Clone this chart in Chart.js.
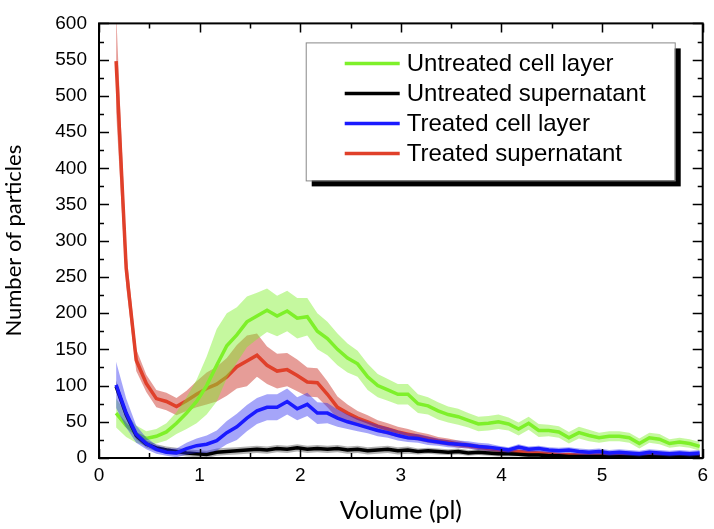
<!DOCTYPE html>
<html>
<head>
<meta charset="utf-8">
<script src="https://cdn.jsdelivr.net/npm/chart.js@4.4.0/dist/chart.umd.min.js"></script>
<style>
  html, body { margin: 0; padding: 0; background: #fff; }
  #wrap { width: 714px; height: 529px; }
</style>
</head>
<body>
<div id="wrap"><canvas id="chart" width="714" height="529"></canvas></div>
<script>
// volume (pl) for every sample
const volumes = [0.17, 0.27, 0.37, 0.47, 0.57, 0.67, 0.77, 0.87, 0.97, 1.07,
  1.17, 1.27, 1.37, 1.47, 1.57, 1.67, 1.77, 1.87, 1.97, 2.07,
  2.17, 2.27, 2.37, 2.47, 2.57, 2.67, 2.77, 2.87, 2.97, 3.07,
  3.17, 3.27, 3.37, 3.47, 3.57, 3.67, 3.77, 3.87, 3.97, 4.07,
  4.17, 4.27, 4.37, 4.47, 4.57, 4.67, 4.77, 4.87, 4.97, 5.07,
  5.17, 5.27, 5.37, 5.47, 5.57, 5.67, 5.77, 5.87, 5.97];

const untreatedCell = [62, 45, 33, 27, 30, 36, 48, 62, 78, 100,
  128, 155, 170, 188, 196, 204, 196, 203, 193, 195,
  175, 165, 150, 138, 130, 112, 100, 94, 88, 88,
  75, 72, 65, 60, 57, 52, 47, 48, 50, 47,
  40, 48, 38, 38, 36, 28, 35, 31, 28, 30,
  30, 28, 20, 28, 26, 20, 22, 20, 16];
const untreatedCellErr = [20, 16, 12, 10, 10, 12, 15, 22, 30, 40,
  50, 45, 38, 35, 32, 30, 28, 28, 28, 26,
  25, 23, 22, 20, 18, 18, 16, 15, 14, 14,
  13, 12, 12, 11, 11, 10, 10, 10, 10, 9,
  9, 9, 9, 8, 8, 8, 8, 8, 7, 7,
  7, 7, 7, 7, 7, 6, 6, 6, 6];

const untreatedSuper = [99, 60, 31, 19, 14, 11, 9, 7, 6, 5,
  8, 9, 10, 11, 12, 11, 13, 12, 14, 12,
  13, 12, 13, 11, 12, 10, 11, 12, 10, 11,
  9, 10, 9, 8, 9, 7, 8, 7, 6, 6,
  5, 4, 4, 3, 3, 2, 2, 2, 2, 2,
  2, 2, 2, 2, 2, 2, 2, 2, 2];
const untreatedSuperErr = [8, 6, 5, 5, 5, 5, 5, 5, 5, 5,
  5, 5, 5, 5, 5, 5, 5, 5, 5, 5,
  5, 5, 5, 5, 5, 5, 5, 5, 5, 5,
  4, 4, 4, 4, 4, 4, 4, 4, 4, 4,
  3, 3, 3, 3, 3, 3, 3, 3, 3, 3,
  3, 3, 3, 3, 3, 3, 3, 3, 3];

const treatedCell = [101, 62, 33, 20, 12, 8, 7, 13, 17, 19,
  24, 35, 43, 55, 65, 70, 70, 78, 68, 74,
  62, 62, 55, 50, 46, 42, 38, 35, 31, 28,
  27, 24, 22, 20, 19, 18, 16, 15, 13, 11,
  15, 12, 13, 11, 10, 11, 9, 8, 9, 7,
  8, 7, 6, 8, 7, 6, 7, 6, 7];
const treatedCellErr = [32, 20, 12, 8, 6, 5, 6, 8, 10, 12,
  14, 16, 18, 18, 18, 18, 18, 18, 16, 16,
  15, 14, 12, 10, 9, 8, 8, 7, 7, 6,
  6, 6, 5, 5, 5, 5, 5, 5, 4, 4,
  4, 4, 4, 4, 4, 4, 4, 4, 4, 4,
  4, 4, 4, 4, 4, 4, 4, 4, 4];

const treatedSuper = [548, 262, 135, 103, 82, 78, 71, 79, 88, 96,
  102, 112, 126, 134, 142, 128, 120, 122, 114, 105,
  104, 88, 70, 62, 55, 50, 44, 40, 36, 33,
  30, 27, 24, 22, 19, 17, 15, 13, 11, 10,
  9, 8, 7, 6, 5, 5, 4, 4, 4, 3,
  3, 3, 3, 3, 3, 3, 3, 3, 3];
const treatedSuperErr = [70, 25, 15, 12, 12, 12, 12, 14, 18, 22,
  24, 26, 30, 35, 30, 26, 24, 23, 22, 20,
  20, 18, 15, 12, 10, 9, 8, 8, 7, 7,
  6, 6, 5, 5, 5, 4, 4, 4, 3, 3,
  3, 3, 3, 3, 2, 2, 2, 2, 2, 2,
  2, 2, 2, 2, 2, 2, 2, 2, 2];

const seriesLabels = ['Untreated cell layer', 'Untreated supernatant', 'Treated cell layer', 'Treated supernatant'];
const xTicks = [0, 1, 2, 3, 4, 5, 6];
const yTicks = [0, 50, 100, 150, 200, 250, 300, 350, 400, 450, 500, 550, 600];

// colour, band colour and draw order (higher order is drawn first)
const series = [
  { label: seriesLabels[0], mean: untreatedCell, err: untreatedCellErr, color: '#7ef02a', band: 'rgba(126,240,42,0.45)', order: 30 },
  { label: seriesLabels[1], mean: untreatedSuper, err: untreatedSuperErr, color: '#000000', band: 'rgba(0,0,0,0.3)', order: 15 },
  { label: seriesLabels[2], mean: treatedCell, err: treatedCellErr, color: '#1a1aff', band: 'rgba(40,40,240,0.42)', order: 10 },
  { label: seriesLabels[3], mean: treatedSuper, err: treatedSuperErr, color: '#e0402a', band: 'rgba(205,60,50,0.5)', order: 40 }
];

const datasets = [];
series.forEach(s => {
  datasets.push({
    label: s.label + ' upper',
    data: volumes.map((v, i) => ({ x: v, y: s.mean[i] + s.err[i] })),
    borderWidth: 0, pointRadius: 0, fill: false, order: s.order + 2
  });
  datasets.push({
    label: s.label + ' lower',
    data: volumes.map((v, i) => ({ x: v, y: s.mean[i] - s.err[i] })),
    borderWidth: 0, pointRadius: 0, fill: '-1', backgroundColor: s.band, order: s.order + 1
  });
  datasets.push({
    label: s.label,
    data: volumes.map((v, i) => ({ x: v, y: s.mean[i] })),
    borderColor: s.color, borderWidth: 3.5, pointRadius: 0, fill: false, order: s.order
  });
});

// frame, inward ticks and boxed legend
const framePlugin = {
  id: 'frame',
  afterDraw(chart) {
    const ctx = chart.ctx;
    const a = chart.chartArea;
    const xs = chart.scales.x, ys = chart.scales.y;
    ctx.save();
    ctx.strokeStyle = '#000';
    ctx.lineWidth = 2;
    ctx.strokeRect(a.left, a.top, a.right - a.left, a.bottom - a.top);
    ctx.lineWidth = 1.5;
    ctx.beginPath();
    for (let v = 0; v <= 6; v += 0.5) {
      const px = Math.round(xs.getPixelForValue(v)) + 0.5;
      const len = Number.isInteger(v) ? 9 : 5;
      ctx.moveTo(px, a.bottom); ctx.lineTo(px, a.bottom - len);
      ctx.moveTo(px, a.top); ctx.lineTo(px, a.top + len);
    }
    for (let v = 0; v <= 600; v += 25) {
      const py = Math.round(ys.getPixelForValue(v)) + 0.5;
      const len = v % 50 === 0 ? 10 : 5;
      ctx.moveTo(a.left, py); ctx.lineTo(a.left + len, py);
      ctx.moveTo(a.right, py); ctx.lineTo(a.right - len, py);
    }
    ctx.stroke();

    // legend
    const bx = a.right - 397, by = a.top + 19, bw = 369, bh = 138;
    ctx.fillStyle = '#000';
    ctx.fillRect(bx + 6, by + 6, bw, bh);
    ctx.fillStyle = '#fff';
    ctx.fillRect(bx, by, bw, bh);
    ctx.strokeStyle = '#888';
    ctx.lineWidth = 1;
    ctx.strokeRect(bx + 0.5, by + 0.5, bw, bh);
    ctx.font = '24px "Liberation Sans", Arial, sans-serif';
    ctx.textBaseline = 'middle';
    ctx.textAlign = 'left';
    series.forEach((s, i) => {
      const ly = by + 21 + i * 30;
      ctx.strokeStyle = s.color;
      ctx.lineWidth = 3.5;
      ctx.beginPath();
      ctx.moveTo(bx + 39, ly); ctx.lineTo(bx + 94, ly);
      ctx.stroke();
      ctx.fillStyle = '#000';
      ctx.fillText(s.label, bx + 101, ly + 1);
    });
    ctx.restore();
  }
};

new Chart(document.getElementById('chart'), {
  type: 'line',
  data: { datasets },
  options: {
    responsive: false,
    devicePixelRatio: 1,
    animation: false,
    layout: { padding: { top: 13, right: 10, left: 0, bottom: 0 } },
    plugins: { legend: { display: false }, tooltip: { enabled: false } },
    scales: {
      x: {
        type: 'linear', min: 0, max: 6,
        afterBuildTicks: s => { s.ticks = xTicks.map(v => ({ value: v })); },
        ticks: { color: '#000', font: { family: '"Liberation Sans", Arial, sans-serif', size: 19 }, padding: 6, maxRotation: 0 },
        grid: { display: false, drawTicks: false },
        border: { display: false },
        title: { display: true, text: 'Volume (pl)', color: '#000', font: { family: 'Lato, "Open Sans", sans-serif', size: 25 }, padding: { bottom: 3 } },
        afterFit: s => { s.height = 71; }
      },
      y: {
        min: 0, max: 600,
        afterBuildTicks: s => { s.ticks = yTicks.map(v => ({ value: v })); },
        ticks: { color: '#000', font: { family: '"Liberation Sans", Arial, sans-serif', size: 19 }, padding: 12 },
        grid: { display: false, drawTicks: false },
        border: { display: false },
        title: { display: true, text: 'Number of particles', color: '#000', font: { family: 'Lato, "Open Sans", sans-serif', size: 22 }, padding: { top: 1 } },
        afterFit: s => { s.width = 99; }
      }
    }
  },
  plugins: [framePlugin]
});
</script>
</body>
</html>
